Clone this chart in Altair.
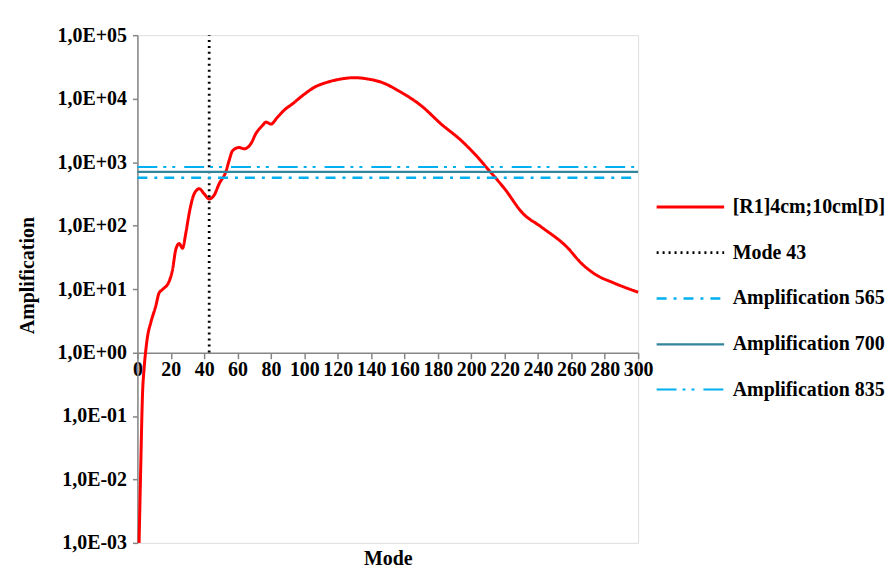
import altair as alt
import pandas as pd

# ---- data ----
modes = [1, 2, 3, 4, 5, 6, 8, 11, 13, 15, 19, 21, 23, 25, 27, 29, 31, 34, 37, 40,
         43, 46, 49, 53, 55, 57, 61, 64, 68, 71, 75, 77, 80, 84, 88, 93, 99, 106,
         114, 122, 130, 138, 146, 158, 170, 182, 194, 202, 210, 220, 231, 242,
         258, 265, 275, 285, 300]
amplification = [0.001, 0.016, 0.2, 0.56, 1.07, 1.74, 2.95, 5.4, 8.7, 9.8, 13.2,
                 20, 42, 52, 44, 76, 155, 316, 380, 316, 263, 302, 457, 708, 1070,
                 1510, 1700, 1620, 1950, 2820, 3800, 4270, 3980, 5130, 6610, 8320,
                 11200, 15100, 18200, 20400, 21400, 20400, 18200, 12600, 7760, 3980,
                 2190, 1350, 776, 380, 155, 95, 44, 27, 16.6, 12.6, 8.9]

curve_name = "[R1]4cm;10cm[D]"
mode_name = "Mode 43"
mode_x = 43
mode_y_span = [1, 100000]
threshold_names = ["Amplification 565", "Amplification 700", "Amplification 835"]
threshold_values = [565, 700, 835]
x_span = [0, 300]

series_names = [curve_name, mode_name] + threshold_names
series_colors = ["#FF0000", "#000000", "#00B0F0", "#31859C", "#00B0F0"]
series_dashes = [[1, 0], [2, 4], [10, 7, 3, 7], [1, 0], [20, 6, 3, 6, 3, 9]]
series_widths = [3, 2, 2.5, 2.5, 2.5]

y_ticks = [1e-3, 1e-2, 1e-1, 1e0, 1e1, 1e2, 1e3, 1e4, 1e5]
x_ticks = list(range(0, 301, 20))

# ---- build long table ----
rows = []
for i, (m, a) in enumerate(zip(modes, amplification)):
    rows.append({"series": curve_name, "mode": m, "amp": a, "o": i})
for i, yv in enumerate(mode_y_span):
    rows.append({"series": mode_name, "mode": mode_x, "amp": yv, "o": i})
for name, val in zip(threshold_names, threshold_values):
    for i, xv in enumerate(x_span):
        rows.append({"series": name, "mode": xv, "amp": val, "o": i})
df = pd.DataFrame(rows)

font = "Liberation Serif"
gray = "#868686"
fs = 20

label_expr = ("'1,0E' + (datum.value >= 1 ? '+' : '-') + "
              "(abs(round(log(datum.value)/LN10)) < 10 ? '0' : '') + "
              "toString(abs(round(log(datum.value)/LN10)))")

chart = alt.Chart(df).mark_line(clip=False, interpolate="monotone").encode(
    x=alt.X("mode:Q",
            scale=alt.Scale(domain=[0, 300], nice=False, zero=False),
            axis=alt.Axis(title="Mode", values=x_ticks, grid=False,
                          offset=-191, tickSize=6, tickColor=gray,
                          domainColor=gray, domainWidth=1.5, tickWidth=1.5,
                          labelFont=font, labelFontSize=fs, labelFontWeight="bold",
                          labelColor="#000000", labelPadding=1, labelFlush=False,
                          labelOverlap=False,
                          titleFont=font, titleFontSize=fs, titleFontWeight="bold",
                          titleColor="#000000", titleY=207, titleBaseline="middle")),
    y=alt.Y("amp:Q",
            scale=alt.Scale(type="log", domain=[1e-3, 1e5], nice=False),
            axis=alt.Axis(title="Amplification", values=y_ticks, grid=False,
                          labelExpr=label_expr, tickSize=5, tickColor=gray,
                          domainColor=gray, domainWidth=1.5, tickWidth=1.5,
                          labelFont=font, labelFontSize=fs, labelFontWeight="bold",
                          labelColor="#000000", labelPadding=6,
                          titleFont=font, titleFontSize=fs, titleFontWeight="bold",
                          titleColor="#000000", titleX=-110, titleY=241,
                          titleAngle=270, titleBaseline="middle", titleAlign="center")),
    color=alt.Color("series:N",
                    scale=alt.Scale(domain=series_names, range=series_colors),
                    legend=alt.Legend(title=None, orient="none", legendX=520, legendY=137,
                                      symbolType="stroke", symbolSize=4600,
                                      symbolStrokeWidth=2.5, labelFont=font,
                                      labelFontSize=fs, labelFontWeight="bold",
                                      labelColor="#000000", labelOffset=7,
                                      rowPadding=0, labelLimit=300)),
    strokeDash=alt.StrokeDash("series:N",
                              scale=alt.Scale(domain=series_names, range=series_dashes),
                              legend=None),
    strokeWidth=alt.StrokeWidth("series:N",
                                scale=alt.Scale(domain=series_names, range=series_widths),
                                legend=None),
    detail="series:N",
    order="o:Q",
).properties(
    width=503, height=510,
    padding={"left": 130, "top": 26, "right": 250, "bottom": 40},
    autosize=alt.AutoSizeParams(type="none"),
).configure_view(stroke=None).configure(background="#FFFFFF")

chart.save("out.html", embed_options={"renderer": "svg", "actions": False})
